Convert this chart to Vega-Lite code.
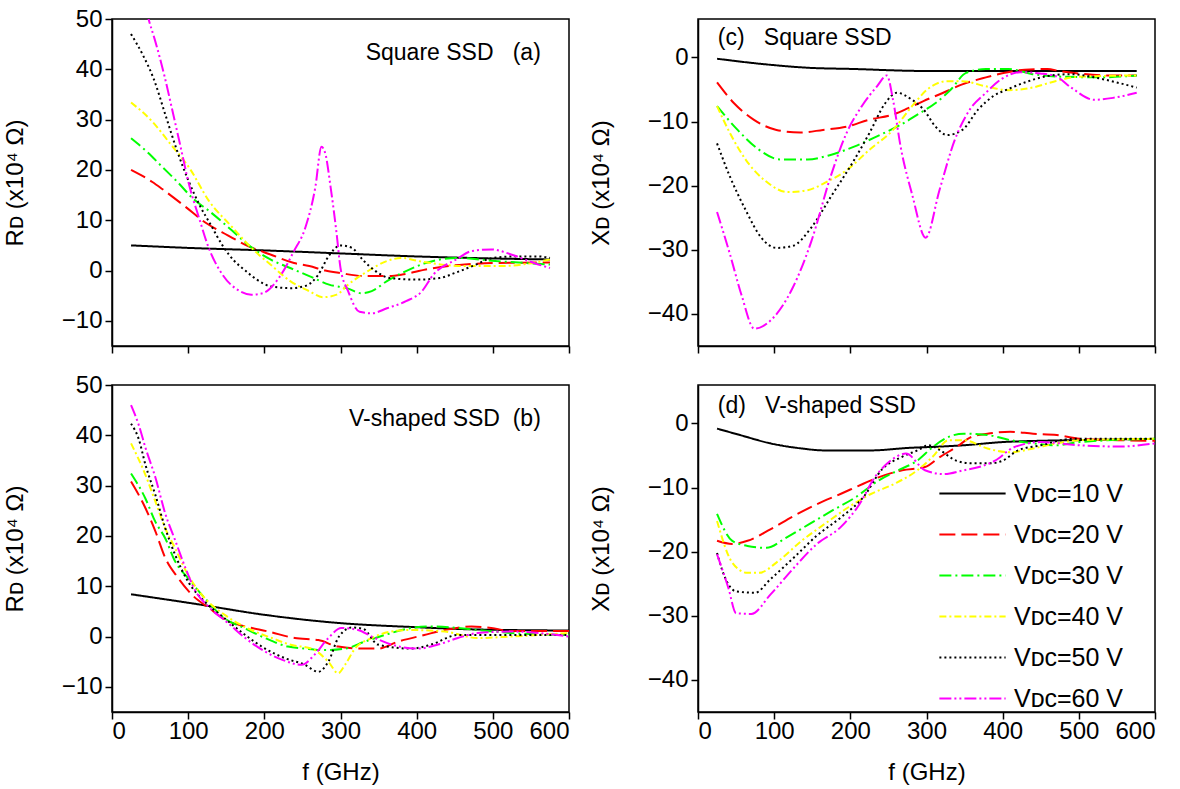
{
"$schema": "https://vega.github.io/schema/vega-lite/v6.json",
"padding": {"left": 2, "top": 6, "right": 5, "bottom": 5},
"background": "white",
"config": {
  "font": "Liberation Sans",
  "view": {"stroke": "#000", "strokeWidth": 1.5},
  "axis": {"domainColor": "#000", "domainWidth": 1.5, "tickColor": "#000", "tickWidth": 1.5, "tickSize": 7, "labelFontSize": 24, "labelColor": "#000", "titleFontSize": 24, "titleColor": "#000", "titleFontWeight": "normal", "grid": false, "labelPadding": 3, "labelFont": "Liberation Sans", "titleFont": "Liberation Sans"},
  "axisX": {"labelPadding": 0},
  "legend": {"labelFont": "Liberation Sans"}
},
"datasets": {
"notes": [
 {"p": "a", "f": 563, "v": 43.2, "t": "Square SSD\u00a0\u00a0\u00a0(a)"},
 {"p": "b", "f": 563, "v": 43.3, "t": "V-shaped SSD\u00a0\u00a0(b)"},
 {"p": "c", "f": 26, "v": 3.0, "t": "(c)\u00a0\u00a0\u00a0Square SSD"},
 {"p": "d", "f": 26, "v": 2.8, "t": "(d)\u00a0\u00a0\u00a0V-shaped SSD"}
],
"curves": [
{"p":"a","V":10,"f":25,"v":5},{"p":"a","V":10,"f":100,"v":4.5},{"p":"a","V":10,"f":200,"v":4},{"p":"a","V":10,"f":300,"v":3.4},{"p":"a","V":10,"f":400,"v":2.8},{"p":"a","V":10,"f":500,"v":2.4},{"p":"a","V":10,"f":575,"v":2.2},
{"p":"a","V":20,"f":25,"v":20},{"p":"a","V":20,"f":53,"v":17.6},{"p":"a","V":20,"f":66,"v":16.2},{"p":"a","V":20,"f":97,"v":12.6},{"p":"a","V":20,"f":122,"v":9.6},{"p":"a","V":20,"f":152,"v":7},{"p":"a","V":20,"f":178,"v":4.9},{"p":"a","V":20,"f":208,"v":3.2},{"p":"a","V":20,"f":239,"v":1.5},{"p":"a","V":20,"f":259,"v":0.9},{"p":"a","V":20,"f":280,"v":0},{"p":"a","V":20,"f":300,"v":-0.5},{"p":"a","V":20,"f":330,"v":-1.1},{"p":"a","V":20,"f":361,"v":-1.1},{"p":"a","V":20,"f":381,"v":-0.8},{"p":"a","V":20,"f":412,"v":0.2},{"p":"a","V":20,"f":442,"v":0.9},{"p":"a","V":20,"f":463,"v":1.2},{"p":"a","V":20,"f":503,"v":1.5},{"p":"a","V":20,"f":575,"v":1.6},
{"p":"a","V":30,"f":25,"v":26.3},{"p":"a","V":30,"f":46,"v":23.6},{"p":"a","V":30,"f":66,"v":20.6},{"p":"a","V":30,"f":86,"v":17.6},{"p":"a","V":30,"f":107,"v":14.2},{"p":"a","V":30,"f":127,"v":11.9},{"p":"a","V":30,"f":158,"v":7.9},{"p":"a","V":30,"f":178,"v":5.2},{"p":"a","V":30,"f":208,"v":2.2},{"p":"a","V":30,"f":234,"v":0.5},{"p":"a","V":30,"f":259,"v":-1.1},{"p":"a","V":30,"f":285,"v":-2.8},{"p":"a","V":30,"f":310,"v":-3.6},{"p":"a","V":30,"f":327,"v":-4.5},{"p":"a","V":30,"f":341,"v":-4.1},{"p":"a","V":30,"f":361,"v":-2.1},{"p":"a","V":30,"f":386,"v":-0.1},{"p":"a","V":30,"f":412,"v":1.5},{"p":"a","V":30,"f":452,"v":2.5},{"p":"a","V":30,"f":503,"v":1.9},{"p":"a","V":30,"f":575,"v":1.2},
{"p":"a","V":40,"f":25,"v":33.4},{"p":"a","V":40,"f":53,"v":29.6},{"p":"a","V":40,"f":76,"v":25.3},{"p":"a","V":40,"f":102,"v":20.3},{"p":"a","V":40,"f":127,"v":13.9},{"p":"a","V":40,"f":158,"v":8.6},{"p":"a","V":40,"f":183,"v":4.5},{"p":"a","V":40,"f":208,"v":1.2},{"p":"a","V":40,"f":234,"v":-2.1},{"p":"a","V":40,"f":259,"v":-4.1},{"p":"a","V":40,"f":277,"v":-5.3},{"p":"a","V":40,"f":295,"v":-4.8},{"p":"a","V":40,"f":310,"v":-2.8},{"p":"a","V":40,"f":336,"v":-0.1},{"p":"a","V":40,"f":361,"v":1.9},{"p":"a","V":40,"f":381,"v":2.5},{"p":"a","V":40,"f":402,"v":1.9},{"p":"a","V":40,"f":463,"v":0.9},{"p":"a","V":40,"f":513,"v":0.9},{"p":"a","V":40,"f":575,"v":2.2},
{"p":"a","V":50,"f":25,"v":47},{"p":"a","V":50,"f":40,"v":43},{"p":"a","V":50,"f":55,"v":38},{"p":"a","V":50,"f":70,"v":31},{"p":"a","V":50,"f":85,"v":24},{"p":"a","V":50,"f":100,"v":18},{"p":"a","V":50,"f":115,"v":13},{"p":"a","V":50,"f":130,"v":9},{"p":"a","V":50,"f":145,"v":5},{"p":"a","V":50,"f":160,"v":2},{"p":"a","V":50,"f":175,"v":0},{"p":"a","V":50,"f":190,"v":-1.8},{"p":"a","V":50,"f":210,"v":-3.2},{"p":"a","V":50,"f":235,"v":-3.5},{"p":"a","V":50,"f":255,"v":-3},{"p":"a","V":50,"f":270,"v":-1},{"p":"a","V":50,"f":285,"v":3},{"p":"a","V":50,"f":300,"v":5},{"p":"a","V":50,"f":315,"v":4.5},{"p":"a","V":50,"f":330,"v":2},{"p":"a","V":50,"f":345,"v":0},{"p":"a","V":50,"f":365,"v":-1.5},{"p":"a","V":50,"f":400,"v":-1.8},{"p":"a","V":50,"f":430,"v":-1.5},{"p":"a","V":50,"f":450,"v":-0.5},{"p":"a","V":50,"f":475,"v":1},{"p":"a","V":50,"f":500,"v":2.5},{"p":"a","V":50,"f":530,"v":2.8},{"p":"a","V":50,"f":560,"v":2.8},{"p":"a","V":50,"f":575,"v":2.5},
{"p":"a","V":60,"f":25,"v":66},{"p":"a","V":60,"f":35,"v":59},{"p":"a","V":60,"f":48,"v":50},{"p":"a","V":60,"f":56,"v":46},{"p":"a","V":60,"f":69,"v":38.6},{"p":"a","V":60,"f":79,"v":32},{"p":"a","V":60,"f":89,"v":25.3},{"p":"a","V":60,"f":102,"v":16.6},{"p":"a","V":60,"f":114,"v":10.6},{"p":"a","V":60,"f":127,"v":4.5},{"p":"a","V":60,"f":145,"v":-0.8},{"p":"a","V":60,"f":168,"v":-4.1},{"p":"a","V":60,"f":183,"v":-4.8},{"p":"a","V":60,"f":198,"v":-4.5},{"p":"a","V":60,"f":219,"v":-1.5},{"p":"a","V":60,"f":239,"v":3.9},{"p":"a","V":60,"f":254,"v":8.6},{"p":"a","V":60,"f":267,"v":16.6},{"p":"a","V":60,"f":275,"v":24.6},{"p":"a","V":60,"f":280,"v":23.3},{"p":"a","V":60,"f":287,"v":16.6},{"p":"a","V":60,"f":295,"v":7.2},{"p":"a","V":60,"f":300,"v":0.5},{"p":"a","V":60,"f":310,"v":-4.1},{"p":"a","V":60,"f":325,"v":-8.2},{"p":"a","V":60,"f":341,"v":-8.5},{"p":"a","V":60,"f":361,"v":-7.5},{"p":"a","V":60,"f":386,"v":-6.1},{"p":"a","V":60,"f":407,"v":-4.1},{"p":"a","V":60,"f":422,"v":-0.8},{"p":"a","V":60,"f":452,"v":2.2},{"p":"a","V":60,"f":473,"v":3.9},{"p":"a","V":60,"f":498,"v":4.2},{"p":"a","V":60,"f":524,"v":3.2},{"p":"a","V":60,"f":554,"v":1.5},{"p":"a","V":60,"f":575,"v":0.5},
{"p":"b","V":10,"f":25,"v":8.4},{"p":"b","V":10,"f":105,"v":6.6},{"p":"b","V":10,"f":201,"v":4.3},{"p":"b","V":10,"f":297,"v":2.7},{"p":"b","V":10,"f":393,"v":1.9},{"p":"b","V":10,"f":480,"v":1.4},{"p":"b","V":10,"f":600,"v":1.2},
{"p":"b","V":20,"f":25,"v":30.8},{"p":"b","V":20,"f":44,"v":25.5},{"p":"b","V":20,"f":57,"v":20.9},{"p":"b","V":20,"f":70,"v":15.6},{"p":"b","V":20,"f":87,"v":11.6},{"p":"b","V":20,"f":105,"v":8.3},{"p":"b","V":20,"f":127,"v":5.7},{"p":"b","V":20,"f":153,"v":3},{"p":"b","V":20,"f":175,"v":2},{"p":"b","V":20,"f":205,"v":1},{"p":"b","V":20,"f":240,"v":-0.3},{"p":"b","V":20,"f":271,"v":-0.7},{"p":"b","V":20,"f":297,"v":-2},{"p":"b","V":20,"f":332,"v":-2.4},{"p":"b","V":20,"f":349,"v":-2.4},{"p":"b","V":20,"f":376,"v":-1},{"p":"b","V":20,"f":410,"v":0.3},{"p":"b","V":20,"f":437,"v":1.3},{"p":"b","V":20,"f":472,"v":2},{"p":"b","V":20,"f":498,"v":1.7},{"p":"b","V":20,"f":524,"v":1.1},{"p":"b","V":20,"f":600,"v":1.1},
{"p":"b","V":30,"f":25,"v":32.4},{"p":"b","V":30,"f":44,"v":27.4},{"p":"b","V":30,"f":57,"v":22.8},{"p":"b","V":30,"f":70,"v":19.5},{"p":"b","V":30,"f":83,"v":14.9},{"p":"b","V":30,"f":100,"v":11.6},{"p":"b","V":30,"f":122,"v":7.6},{"p":"b","V":30,"f":148,"v":3.6},{"p":"b","V":30,"f":175,"v":1.6},{"p":"b","V":30,"f":201,"v":-0.3},{"p":"b","V":30,"f":231,"v":-2},{"p":"b","V":30,"f":253,"v":-2.4},{"p":"b","V":30,"f":279,"v":-2.7},{"p":"b","V":30,"f":306,"v":-2.4},{"p":"b","V":30,"f":332,"v":-1},{"p":"b","V":30,"f":358,"v":0.3},{"p":"b","V":30,"f":393,"v":1.7},{"p":"b","V":30,"f":419,"v":2},{"p":"b","V":30,"f":454,"v":1.7},{"p":"b","V":30,"f":480,"v":1.3},{"p":"b","V":30,"f":524,"v":0.7},{"p":"b","V":30,"f":600,"v":0.3},
{"p":"b","V":40,"f":25,"v":38.4},{"p":"b","V":40,"f":44,"v":32.1},{"p":"b","V":40,"f":57,"v":26.8},{"p":"b","V":40,"f":70,"v":21.5},{"p":"b","V":40,"f":83,"v":17.5},{"p":"b","V":40,"f":100,"v":12.2},{"p":"b","V":40,"f":122,"v":7.6},{"p":"b","V":40,"f":148,"v":4.3},{"p":"b","V":40,"f":183,"v":1.3},{"p":"b","V":40,"f":210,"v":-0.3},{"p":"b","V":40,"f":236,"v":-1.7},{"p":"b","V":40,"f":262,"v":-2.4},{"p":"b","V":40,"f":284,"v":-5},{"p":"b","V":40,"f":297,"v":-7.3},{"p":"b","V":40,"f":306,"v":-5.6},{"p":"b","V":40,"f":319,"v":-2.4},{"p":"b","V":40,"f":341,"v":-0.3},{"p":"b","V":40,"f":367,"v":1},{"p":"b","V":40,"f":393,"v":1.3},{"p":"b","V":40,"f":437,"v":1},{"p":"b","V":40,"f":480,"v":-0.3},{"p":"b","V":40,"f":524,"v":0},{"p":"b","V":40,"f":600,"v":0.7},
{"p":"b","V":50,"f":25,"v":42.3},{"p":"b","V":50,"f":35,"v":39.3},{"p":"b","V":50,"f":44,"v":34.1},{"p":"b","V":50,"f":57,"v":28.1},{"p":"b","V":50,"f":70,"v":21.5},{"p":"b","V":50,"f":83,"v":16.2},{"p":"b","V":50,"f":100,"v":10.9},{"p":"b","V":50,"f":122,"v":6.9},{"p":"b","V":50,"f":148,"v":3.6},{"p":"b","V":50,"f":175,"v":0.3},{"p":"b","V":50,"f":201,"v":-2.4},{"p":"b","V":50,"f":227,"v":-4.3},{"p":"b","V":50,"f":253,"v":-5.6},{"p":"b","V":50,"f":271,"v":-7},{"p":"b","V":50,"f":284,"v":-5},{"p":"b","V":50,"f":298,"v":0},{"p":"b","V":50,"f":315,"v":1.8},{"p":"b","V":50,"f":330,"v":1.5},{"p":"b","V":50,"f":349,"v":-1.6},{"p":"b","V":50,"f":393,"v":-2.4},{"p":"b","V":50,"f":419,"v":-1.6},{"p":"b","V":50,"f":454,"v":0.3},{"p":"b","V":50,"f":524,"v":0.3},{"p":"b","V":50,"f":600,"v":0.3},
{"p":"b","V":60,"f":25,"v":46},{"p":"b","V":60,"f":35,"v":42.1},{"p":"b","V":60,"f":44,"v":37.5},{"p":"b","V":60,"f":57,"v":31.6},{"p":"b","V":60,"f":70,"v":24.4},{"p":"b","V":60,"f":83,"v":19.1},{"p":"b","V":60,"f":96,"v":13.8},{"p":"b","V":60,"f":109,"v":9.2},{"p":"b","V":60,"f":127,"v":5.9},{"p":"b","V":60,"f":153,"v":2.6},{"p":"b","V":60,"f":175,"v":-0.3},{"p":"b","V":60,"f":201,"v":-3},{"p":"b","V":60,"f":223,"v":-4.6},{"p":"b","V":60,"f":249,"v":-5.6},{"p":"b","V":60,"f":266,"v":-3.6},{"p":"b","V":60,"f":284,"v":-0.3},{"p":"b","V":60,"f":301,"v":1.7},{"p":"b","V":60,"f":323,"v":1.3},{"p":"b","V":60,"f":341,"v":0},{"p":"b","V":60,"f":367,"v":-1.6},{"p":"b","V":60,"f":402,"v":-2.4},{"p":"b","V":60,"f":428,"v":-1.6},{"p":"b","V":60,"f":454,"v":-0.3},{"p":"b","V":60,"f":480,"v":0.7},{"p":"b","V":60,"f":524,"v":1},{"p":"b","V":60,"f":600,"v":0},
{"p":"c","V":10,"f":25,"v":-0.2},{"p":"c","V":10,"f":83,"v":-1},{"p":"c","V":10,"f":144,"v":-1.6},{"p":"c","V":10,"f":205,"v":-1.8},{"p":"c","V":10,"f":296,"v":-2.1},{"p":"c","V":10,"f":398,"v":-2.1},{"p":"c","V":10,"f":576,"v":-2.1},
{"p":"c","V":20,"f":25,"v":-3.9},{"p":"c","V":20,"f":47,"v":-7.1},{"p":"c","V":20,"f":73,"v":-9.7},{"p":"c","V":20,"f":103,"v":-11.3},{"p":"c","V":20,"f":134,"v":-11.7},{"p":"c","V":20,"f":164,"v":-11.3},{"p":"c","V":20,"f":195,"v":-10.8},{"p":"c","V":20,"f":225,"v":-9.7},{"p":"c","V":20,"f":256,"v":-8.9},{"p":"c","V":20,"f":276,"v":-7.9},{"p":"c","V":20,"f":296,"v":-6.8},{"p":"c","V":20,"f":322,"v":-5.5},{"p":"c","V":20,"f":347,"v":-4.2},{"p":"c","V":20,"f":378,"v":-3.1},{"p":"c","V":20,"f":398,"v":-2.5},{"p":"c","V":20,"f":429,"v":-1.9},{"p":"c","V":20,"f":459,"v":-1.8},{"p":"c","V":20,"f":474,"v":-2.1},{"p":"c","V":20,"f":500,"v":-2.5},{"p":"c","V":20,"f":540,"v":-2.8},{"p":"c","V":20,"f":576,"v":-2.8},
{"p":"c","V":30,"f":25,"v":-7.6},{"p":"c","V":30,"f":52,"v":-11.3},{"p":"c","V":30,"f":78,"v":-14.2},{"p":"c","V":30,"f":108,"v":-15.9},{"p":"c","V":30,"f":144,"v":-15.9},{"p":"c","V":30,"f":174,"v":-15.2},{"p":"c","V":30,"f":205,"v":-13.9},{"p":"c","V":30,"f":235,"v":-12.3},{"p":"c","V":30,"f":266,"v":-10.5},{"p":"c","V":30,"f":291,"v":-8.7},{"p":"c","V":30,"f":312,"v":-7.1},{"p":"c","V":30,"f":332,"v":-5},{"p":"c","V":30,"f":352,"v":-2.4},{"p":"c","V":30,"f":378,"v":-1.8},{"p":"c","V":30,"f":408,"v":-1.8},{"p":"c","V":30,"f":439,"v":-2.6},{"p":"c","V":30,"f":479,"v":-3},{"p":"c","V":30,"f":530,"v":-3.1},{"p":"c","V":30,"f":576,"v":-2.8},
{"p":"c","V":40,"f":25,"v":-7.6},{"p":"c","V":40,"f":42,"v":-11.8},{"p":"c","V":40,"f":63,"v":-16},{"p":"c","V":40,"f":88,"v":-19.2},{"p":"c","V":40,"f":118,"v":-21},{"p":"c","V":40,"f":144,"v":-20.7},{"p":"c","V":40,"f":169,"v":-19.4},{"p":"c","V":40,"f":195,"v":-17.6},{"p":"c","V":40,"f":225,"v":-14.4},{"p":"c","V":40,"f":256,"v":-11.3},{"p":"c","V":40,"f":281,"v":-7.6},{"p":"c","V":40,"f":301,"v":-5},{"p":"c","V":40,"f":327,"v":-3.7},{"p":"c","V":40,"f":347,"v":-3.7},{"p":"c","V":40,"f":378,"v":-4.5},{"p":"c","V":40,"f":408,"v":-5.1},{"p":"c","V":40,"f":439,"v":-4.7},{"p":"c","V":40,"f":469,"v":-3.7},{"p":"c","V":40,"f":500,"v":-3},{"p":"c","V":40,"f":576,"v":-2.8},
{"p":"c","V":50,"f":25,"v":-13.4},{"p":"c","V":50,"f":42,"v":-18.6},{"p":"c","V":50,"f":63,"v":-23.9},{"p":"c","V":50,"f":83,"v":-28.1},{"p":"c","V":50,"f":103,"v":-29.7},{"p":"c","V":50,"f":124,"v":-29.4},{"p":"c","V":50,"f":149,"v":-26.5},{"p":"c","V":50,"f":174,"v":-21.8},{"p":"c","V":50,"f":205,"v":-16},{"p":"c","V":50,"f":225,"v":-11.8},{"p":"c","V":50,"f":246,"v":-7.1},{"p":"c","V":50,"f":261,"v":-5.5},{"p":"c","V":50,"f":281,"v":-6.6},{"p":"c","V":50,"f":296,"v":-8.1},{"p":"c","V":50,"f":312,"v":-10.8},{"p":"c","V":50,"f":327,"v":-12.1},{"p":"c","V":50,"f":347,"v":-11.3},{"p":"c","V":50,"f":368,"v":-8.1},{"p":"c","V":50,"f":388,"v":-6},{"p":"c","V":50,"f":408,"v":-4.9},{"p":"c","V":50,"f":429,"v":-3.9},{"p":"c","V":50,"f":459,"v":-2.9},{"p":"c","V":50,"f":490,"v":-2.6},{"p":"c","V":50,"f":520,"v":-3.1},{"p":"c","V":50,"f":550,"v":-3.9},{"p":"c","V":50,"f":576,"v":-4.7},
{"p":"c","V":60,"f":25,"v":-24.1},{"p":"c","V":60,"f":42,"v":-30.7},{"p":"c","V":60,"f":57,"v":-37},{"p":"c","V":60,"f":74,"v":-42.3},{"p":"c","V":60,"f":98,"v":-40.7},{"p":"c","V":60,"f":124,"v":-36},{"p":"c","V":60,"f":149,"v":-28.6},{"p":"c","V":60,"f":174,"v":-18.6},{"p":"c","V":60,"f":195,"v":-11.8},{"p":"c","V":60,"f":215,"v":-7.6},{"p":"c","V":60,"f":235,"v":-4.5},{"p":"c","V":60,"f":248,"v":-2.8},{"p":"c","V":60,"f":256,"v":-6.6},{"p":"c","V":60,"f":266,"v":-13.9},{"p":"c","V":60,"f":281,"v":-21.3},{"p":"c","V":60,"f":299,"v":-28.1},{"p":"c","V":60,"f":317,"v":-20.7},{"p":"c","V":60,"f":337,"v":-12.9},{"p":"c","V":60,"f":357,"v":-8.1},{"p":"c","V":60,"f":378,"v":-5.5},{"p":"c","V":60,"f":398,"v":-3.4},{"p":"c","V":60,"f":423,"v":-2.3},{"p":"c","V":60,"f":449,"v":-2.5},{"p":"c","V":60,"f":469,"v":-2.9},{"p":"c","V":60,"f":490,"v":-4.7},{"p":"c","V":60,"f":520,"v":-6.6},{"p":"c","V":60,"f":545,"v":-6.3},{"p":"c","V":60,"f":576,"v":-5.5},
{"p":"d","V":10,"f":25,"v":-0.8},{"p":"d","V":10,"f":55,"v":-1.8},{"p":"d","V":10,"f":95,"v":-3.1},{"p":"d","V":10,"f":136,"v":-3.9},{"p":"d","V":10,"f":166,"v":-4.2},{"p":"d","V":10,"f":227,"v":-4.2},{"p":"d","V":10,"f":278,"v":-3.8},{"p":"d","V":10,"f":318,"v":-3.6},{"p":"d","V":10,"f":349,"v":-3.4},{"p":"d","V":10,"f":400,"v":-2.9},{"p":"d","V":10,"f":450,"v":-2.7},{"p":"d","V":10,"f":501,"v":-2.6},{"p":"d","V":10,"f":600,"v":-2.4},
{"p":"d","V":20,"f":25,"v":-18.3},{"p":"d","V":20,"f":45,"v":-18.8},{"p":"d","V":20,"f":65,"v":-18.3},{"p":"d","V":20,"f":95,"v":-16.5},{"p":"d","V":20,"f":126,"v":-14.4},{"p":"d","V":20,"f":156,"v":-12.6},{"p":"d","V":20,"f":187,"v":-11},{"p":"d","V":20,"f":217,"v":-9.4},{"p":"d","V":20,"f":237,"v":-8.4},{"p":"d","V":20,"f":268,"v":-7.3},{"p":"d","V":20,"f":298,"v":-6.8},{"p":"d","V":20,"f":318,"v":-5.2},{"p":"d","V":20,"f":339,"v":-3.7},{"p":"d","V":20,"f":359,"v":-2.1},{"p":"d","V":20,"f":380,"v":-1.6},{"p":"d","V":20,"f":410,"v":-1.3},{"p":"d","V":20,"f":440,"v":-1.6},{"p":"d","V":20,"f":471,"v":-1.8},{"p":"d","V":20,"f":501,"v":-2.4},{"p":"d","V":20,"f":552,"v":-2.6},{"p":"d","V":20,"f":600,"v":-2.7},
{"p":"d","V":30,"f":25,"v":-14.1},{"p":"d","V":30,"f":45,"v":-18.3},{"p":"d","V":30,"f":65,"v":-19.1},{"p":"d","V":30,"f":90,"v":-19.4},{"p":"d","V":30,"f":116,"v":-17.8},{"p":"d","V":30,"f":146,"v":-15.7},{"p":"d","V":30,"f":176,"v":-13.6},{"p":"d","V":30,"f":207,"v":-11.5},{"p":"d","V":30,"f":237,"v":-8.9},{"p":"d","V":30,"f":263,"v":-7.3},{"p":"d","V":30,"f":288,"v":-5.8},{"p":"d","V":30,"f":308,"v":-3.7},{"p":"d","V":30,"f":329,"v":-2.1},{"p":"d","V":30,"f":349,"v":-1.6},{"p":"d","V":30,"f":380,"v":-1.8},{"p":"d","V":30,"f":410,"v":-2.6},{"p":"d","V":30,"f":440,"v":-3.1},{"p":"d","V":30,"f":471,"v":-3.4},{"p":"d","V":30,"f":501,"v":-2.9},{"p":"d","V":30,"f":600,"v":-2.4},
{"p":"d","V":40,"f":25,"v":-15.2},{"p":"d","V":40,"f":45,"v":-21.7},{"p":"d","V":40,"f":65,"v":-23.3},{"p":"d","V":40,"f":80,"v":-23.3},{"p":"d","V":40,"f":105,"v":-21.5},{"p":"d","V":40,"f":136,"v":-18.3},{"p":"d","V":40,"f":166,"v":-15.7},{"p":"d","V":40,"f":197,"v":-13.1},{"p":"d","V":40,"f":227,"v":-11},{"p":"d","V":40,"f":258,"v":-9.4},{"p":"d","V":40,"f":288,"v":-7.3},{"p":"d","V":40,"f":308,"v":-5.2},{"p":"d","V":40,"f":329,"v":-2.6},{"p":"d","V":40,"f":349,"v":-2.6},{"p":"d","V":40,"f":380,"v":-3.9},{"p":"d","V":40,"f":410,"v":-4.5},{"p":"d","V":40,"f":440,"v":-3.9},{"p":"d","V":40,"f":471,"v":-3.1},{"p":"d","V":40,"f":501,"v":-2.6},{"p":"d","V":40,"f":600,"v":-2.4},
{"p":"d","V":50,"f":25,"v":-20.2},{"p":"d","V":50,"f":34,"v":-23.6},{"p":"d","V":50,"f":50,"v":-26.2},{"p":"d","V":50,"f":75,"v":-26.4},{"p":"d","V":50,"f":95,"v":-24.3},{"p":"d","V":50,"f":126,"v":-20.9},{"p":"d","V":50,"f":156,"v":-17.5},{"p":"d","V":50,"f":187,"v":-14.7},{"p":"d","V":50,"f":217,"v":-11.5},{"p":"d","V":50,"f":242,"v":-7.1},{"p":"d","V":50,"f":268,"v":-5.2},{"p":"d","V":50,"f":288,"v":-4.2},{"p":"d","V":50,"f":303,"v":-3.4},{"p":"d","V":50,"f":318,"v":-4.2},{"p":"d","V":50,"f":339,"v":-5.8},{"p":"d","V":50,"f":359,"v":-6.2},{"p":"d","V":50,"f":385,"v":-6.2},{"p":"d","V":50,"f":400,"v":-5.8},{"p":"d","V":50,"f":420,"v":-4.2},{"p":"d","V":50,"f":450,"v":-3.4},{"p":"d","V":50,"f":491,"v":-2.4},{"p":"d","V":50,"f":600,"v":-2.4},
{"p":"d","V":60,"f":25,"v":-20.4},{"p":"d","V":60,"f":40,"v":-25.7},{"p":"d","V":60,"f":50,"v":-29.6},{"p":"d","V":60,"f":70,"v":-29.7},{"p":"d","V":60,"f":95,"v":-26.7},{"p":"d","V":60,"f":126,"v":-22.5},{"p":"d","V":60,"f":156,"v":-18.8},{"p":"d","V":60,"f":187,"v":-16.2},{"p":"d","V":60,"f":212,"v":-12.6},{"p":"d","V":60,"f":232,"v":-8.4},{"p":"d","V":60,"f":248,"v":-6.3},{"p":"d","V":60,"f":273,"v":-4.7},{"p":"d","V":60,"f":298,"v":-7.3},{"p":"d","V":60,"f":323,"v":-7.9},{"p":"d","V":60,"f":349,"v":-7.3},{"p":"d","V":60,"f":369,"v":-6.8},{"p":"d","V":60,"f":390,"v":-5.8},{"p":"d","V":60,"f":415,"v":-3.7},{"p":"d","V":60,"f":450,"v":-2.9},{"p":"d","V":60,"f":501,"v":-3.4},{"p":"d","V":60,"f":552,"v":-3.6},{"p":"d","V":60,"f":600,"v":-3.1}
]
},
"columns": 2,
"spacing": {"row": 17, "column": 17},
"resolve": {"legend": {"color": "independent", "strokeDash": "independent"}},
"concat": [
{
 "width": 457, "height": 327,
 "layer": [
  {"data": {"name": "curves"}, "transform": [{"filter": "datum.p == 'a'"}],
   "mark": {"type": "line", "clip": true, "strokeWidth": 2, "interpolate": "monotone"},
   "encoding": {
    "x": {"field": "f", "type": "quantitative", "scale": {"domain": [0, 600], "nice": false}, "axis": {"values": [0,100,200,300,400,500,600], "labels": false, "title": null}},
    "y": {"field": "v", "type": "quantitative", "scale": {"domain": [-15, 50], "nice": false, "zero": false}, "axis": {"values": [-10,0,10,20,30,40,50], "title": "Rᴅ (x10⁴ Ω)", "titlePadding": 34}},
    "color": {"field": "V", "type": "nominal", "scale": {"domain": [10,20,30,40,50,60], "range": ["#000000","#ff0000","#00ff00","#ffff00","#000000","#ff00ff"]}, "legend": null},
    "strokeDash": {"field": "V", "type": "nominal", "scale": {"domain": [10,20,30,40,50,60], "range": [[1,0],[16,6],[12,4,2,4],[7,3,2,3],[2,3],[12,3,2,3,2,3]]}, "legend": null}
   }},
  {"mark": {"type": "rule", "strokeWidth": 3, "strokeDash": [3,4], "color": "#000"}, "encoding": {"y": {"datum": 0}}},
  {"data": {"name": "notes"}, "transform": [{"filter": "datum.p == 'a'"}],
   "mark": {"type": "text", "align": "right", "baseline": "middle", "fontSize": 23, "font": "Liberation Sans", "color": "#000"},
   "encoding": {"x": {"field": "f", "type": "quantitative"}, "y": {"field": "v", "type": "quantitative"}, "text": {"field": "t"}}}
 ]
},
{
 "width": 457, "height": 327,
 "layer": [
  {"data": {"name": "curves"}, "transform": [{"filter": "datum.p == 'c'"}],
   "mark": {"type": "line", "clip": true, "strokeWidth": 2, "interpolate": "monotone"},
   "encoding": {
    "x": {"field": "f", "type": "quantitative", "scale": {"domain": [0, 600], "nice": false}, "axis": {"values": [0,100,200,300,400,500,600], "labels": false, "title": null}},
    "y": {"field": "v", "type": "quantitative", "scale": {"domain": [-45, 6], "nice": false, "zero": false}, "axis": {"values": [-40,-30,-20,-10,0], "title": "Xᴅ (x10⁴ Ω)", "titlePadding": 34}},
    "color": {"field": "V", "type": "nominal", "scale": {"domain": [10,20,30,40,50,60], "range": ["#000000","#ff0000","#00ff00","#ffff00","#000000","#ff00ff"]}, "legend": null},
    "strokeDash": {"field": "V", "type": "nominal", "scale": {"domain": [10,20,30,40,50,60], "range": [[1,0],[16,6],[12,4,2,4],[7,3,2,3],[2,3],[12,3,2,3,2,3]]}, "legend": null}
   }},
  {"mark": {"type": "rule", "strokeWidth": 3, "strokeDash": [3,4], "color": "#000"}, "encoding": {"y": {"datum": 0}}},
  {"data": {"name": "notes"}, "transform": [{"filter": "datum.p == 'c'"}],
   "mark": {"type": "text", "align": "left", "baseline": "middle", "fontSize": 23, "font": "Liberation Sans", "color": "#000"},
   "encoding": {"x": {"field": "f", "type": "quantitative"}, "y": {"field": "v", "type": "quantitative"}, "text": {"field": "t"}}}
 ]
},
{
 "width": 457, "height": 327,
 "layer": [
  {"data": {"name": "curves"}, "transform": [{"filter": "datum.p == 'b'"}],
   "mark": {"type": "line", "clip": true, "strokeWidth": 2, "interpolate": "monotone"},
   "encoding": {
    "x": {"field": "f", "type": "quantitative", "scale": {"domain": [0, 600], "nice": false}, "axis": {"values": [0,100,200,300,400,500,600], "title": "f (GHz)", "titlePadding": 17}},
    "y": {"field": "v", "type": "quantitative", "scale": {"domain": [-15, 50], "nice": false, "zero": false}, "axis": {"values": [-10,0,10,20,30,40,50], "title": "Rᴅ (x10⁴ Ω)", "titlePadding": 34}},
    "color": {"field": "V", "type": "nominal", "scale": {"domain": [10,20,30,40,50,60], "range": ["#000000","#ff0000","#00ff00","#ffff00","#000000","#ff00ff"]}, "legend": null},
    "strokeDash": {"field": "V", "type": "nominal", "scale": {"domain": [10,20,30,40,50,60], "range": [[1,0],[16,6],[12,4,2,4],[7,3,2,3],[2,3],[12,3,2,3,2,3]]}, "legend": null}
   }},
  {"mark": {"type": "rule", "strokeWidth": 3, "strokeDash": [3,4], "color": "#000"}, "encoding": {"y": {"datum": 0}}},
  {"data": {"name": "notes"}, "transform": [{"filter": "datum.p == 'b'"}],
   "mark": {"type": "text", "align": "right", "baseline": "middle", "fontSize": 23, "font": "Liberation Sans", "color": "#000"},
   "encoding": {"x": {"field": "f", "type": "quantitative"}, "y": {"field": "v", "type": "quantitative"}, "text": {"field": "t"}}}
 ]
},
{
 "width": 457, "height": 327,
 "layer": [
  {"data": {"name": "curves"}, "transform": [{"filter": "datum.p == 'd'"}],
   "mark": {"type": "line", "clip": true, "strokeWidth": 2, "interpolate": "monotone"},
   "encoding": {
    "x": {"field": "f", "type": "quantitative", "scale": {"domain": [0, 600], "nice": false}, "axis": {"values": [0,100,200,300,400,500,600], "title": "f (GHz)", "titlePadding": 17}},
    "y": {"field": "v", "type": "quantitative", "scale": {"domain": [-45, 6], "nice": false, "zero": false}, "axis": {"values": [-40,-30,-20,-10,0], "title": "Xᴅ (x10⁴ Ω)", "titlePadding": 34}},
    "color": {"field": "V", "type": "nominal", "scale": {"domain": [10,20,30,40,50,60], "range": ["#000000","#ff0000","#00ff00","#ffff00","#000000","#ff00ff"]},
      "legend": {"orient": "none", "legendX": 247, "legendY": 81, "title": null, "symbolType": "M-1.25,0H1.25", "symbolSize": 2809, "symbolStrokeWidth": 2, "labelFontSize": 25, "labelColor": "#000", "labelExpr": "'Vᴅᴄ=' + datum.label + ' V'", "rowPadding": 0, "padding": 0, "labelOffset": 14}},
    "strokeDash": {"field": "V", "type": "nominal", "scale": {"domain": [10,20,30,40,50,60], "range": [[1,0],[16,6],[12,4,2,4],[7,3,2,3],[2,3],[12,3,2,3,2,3]]},
      "legend": {"orient": "none", "legendX": 247, "legendY": 81, "title": null, "symbolType": "M-1.25,0H1.25", "symbolSize": 2809, "symbolStrokeWidth": 2, "labelFontSize": 25, "labelColor": "#000", "labelExpr": "'Vᴅᴄ=' + datum.label + ' V'", "rowPadding": 0, "padding": 0, "labelOffset": 14}}
   }},
  {"mark": {"type": "rule", "strokeWidth": 3, "strokeDash": [3,4], "color": "#000"}, "encoding": {"y": {"datum": 0}}},
  {"data": {"name": "notes"}, "transform": [{"filter": "datum.p == 'd'"}],
   "mark": {"type": "text", "align": "left", "baseline": "middle", "fontSize": 23, "font": "Liberation Sans", "color": "#000"},
   "encoding": {"x": {"field": "f", "type": "quantitative"}, "y": {"field": "v", "type": "quantitative"}, "text": {"field": "t"}}}
 ]
}
]
}
